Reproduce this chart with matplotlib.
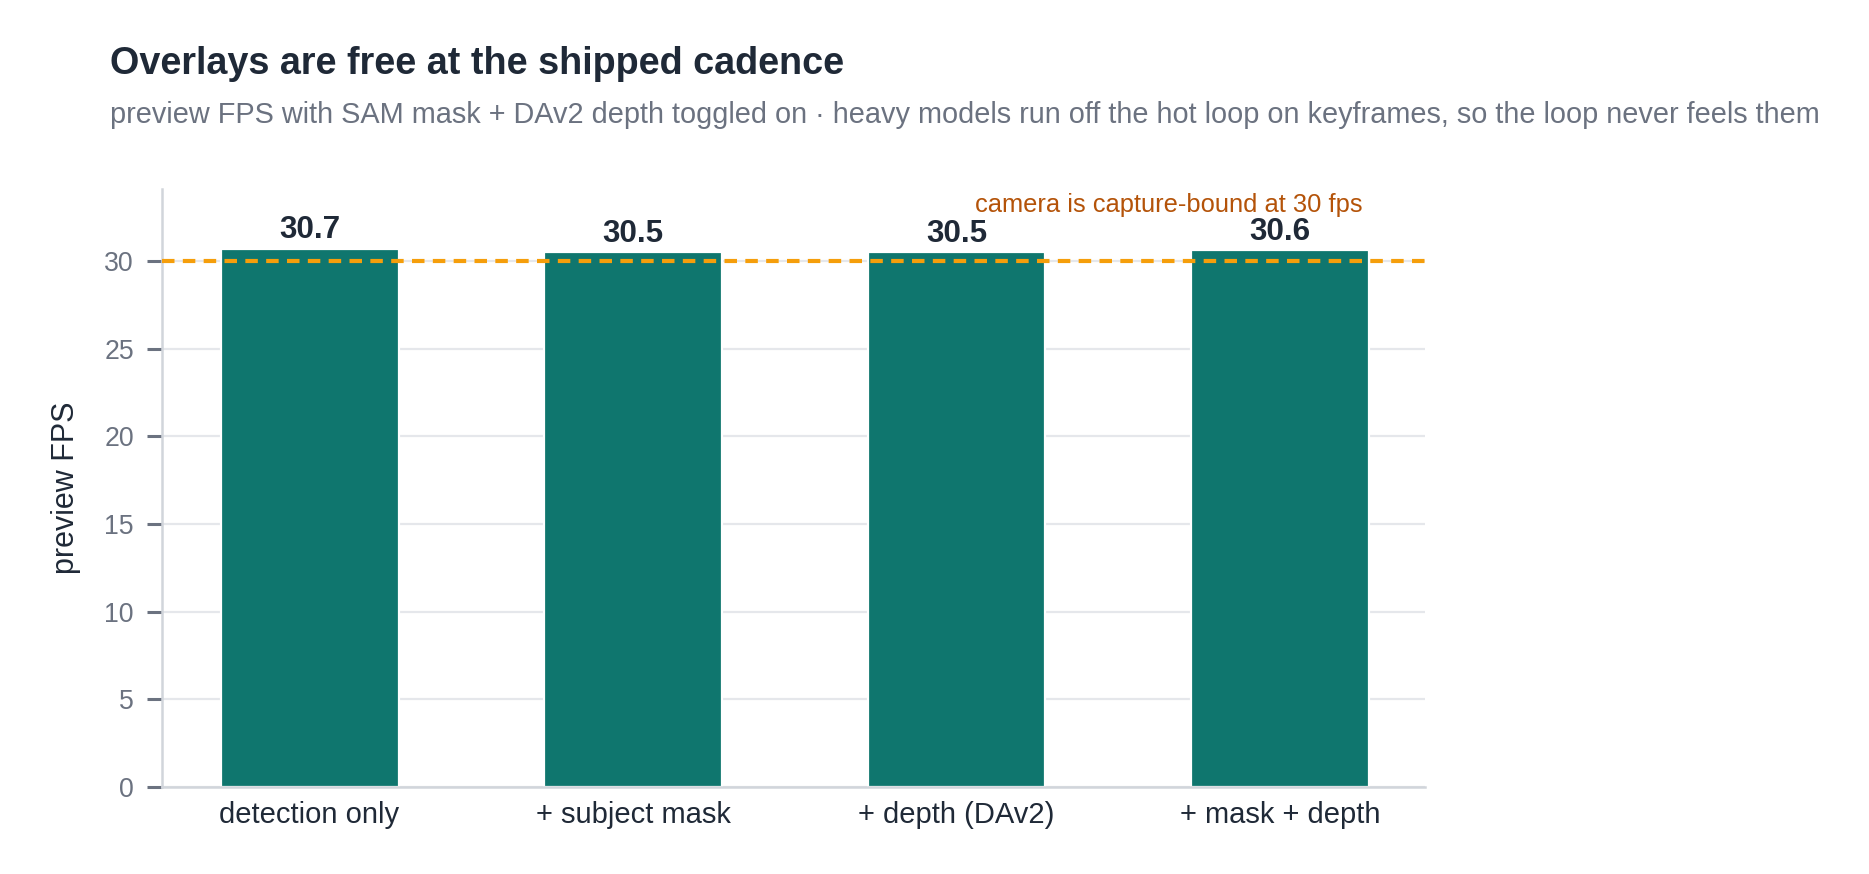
import matplotlib
matplotlib.use("Agg")
import matplotlib.pyplot as plt

plt.rcParams['font.family'] = ['Liberation Sans', 'DejaVu Sans']

configs = ["detection only", "+ subject mask", "+ depth (DAv2)", "+ mask + depth"]
fps = [30.7, 30.5, 30.5, 30.6]
capture_fps = 30

dark = "#1f2937"
gray = "#6b7280"
teal = "#0f766e"

fig = plt.figure(figsize=(9.345, 4.37), dpi=200)
ax = fig.add_axes([0.0867, 0.0995, 0.6757, 0.6843])

x = range(len(configs))
ax.bar(x, fps, width=0.55, color=teal, edgecolor="white", linewidth=0.8, zorder=2)
for i, v in zip(x, fps):
    ax.annotate(f"{v:.1f}", (i, v), xytext=(0, 3.8), textcoords="offset points",
                ha="center", va="baseline", fontsize=11.3, fontweight="bold", color=dark)

ax.axhline(capture_fps, color="#f59e0b", lw=1.5, linestyle=(0, (3, 2)), zorder=3)
ax.text(3.255, 32.5, "camera is capture-bound at 30 fps", ha="right", va="bottom",
        fontsize=9.2, color="#b45309")

ax.set_xlim(-0.456, 3.448)
ax.set_ylim(0, 34.1)
ax.set_xticks(list(x))
ax.set_xticklabels(configs)
ax.set_yticks(range(0, 31, 5))
ax.tick_params(axis="x", length=0, pad=5, labelsize=10.5, labelcolor=dark)
ax.tick_params(axis="y", length=5.4, width=1.1, color=gray, pad=4.7, labelsize=9.6, labelcolor=gray)
ax.grid(axis="y", color="#e5e7eb", lw=0.8, zorder=0)
ax.set_axisbelow(True)
for s in ["top", "right"]:
    ax.spines[s].set_visible(False)
for s in ["left", "bottom"]:
    ax.spines[s].set_color("#d1d5db")
    ax.spines[s].set_linewidth(0.9)
ax.set_ylabel("preview FPS", fontsize=11, color=dark, labelpad=8.5)

fig.text(0.0589, 0.915, "Overlays are free at the shipped cadence", fontsize=13.6,
         fontweight="bold", color=dark)
fig.text(0.0589, 0.859, "preview FPS with SAM mask + DAv2 depth toggled on \u00b7 heavy models "
         "run off the hot loop on keyframes, so the loop never feels them",
         fontsize=10.4, color=gray)

fig.savefig("out.png", dpi=200)
